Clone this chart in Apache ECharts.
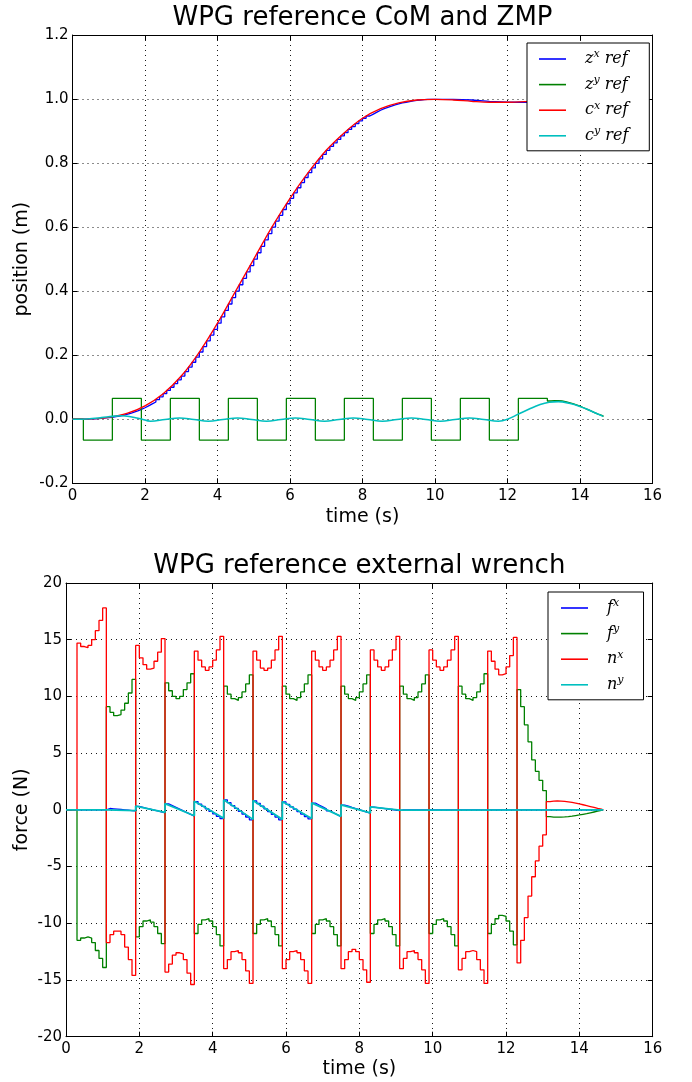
<!DOCTYPE html>
<html><head><meta charset="utf-8">
<script src="https://cdn.jsdelivr.net/npm/echarts@6/dist/echarts.min.js"></script>
<style>html,body{margin:0;padding:0;background:#fff}#c{width:692px;height:1082px}</style>
</head><body><div id="c"></div>
<script>
// ================= DATA =================
// ---- Top chart: WPG reference CoM and ZMP ----
// z^x ref : ZMP x, held 0.1 s steps starting at t = 0.3 s
const zxT0 = 0.3, zxDT = 0.1;
const zxVals = [
  0.000, 0.001, 0.001, 0.002, 0.003, 0.004, 0.005, 0.006, 0.008, 0.010,
  0.012, 0.015, 0.018, 0.022, 0.026, 0.031, 0.036, 0.042, 0.048, 0.054,
  0.061, 0.070, 0.080, 0.090, 0.100, 0.111, 0.123, 0.135, 0.149, 0.163,
  0.178, 0.194, 0.210, 0.227, 0.245, 0.263, 0.281, 0.300, 0.320, 0.340,
  0.360, 0.380, 0.400, 0.420, 0.440, 0.460, 0.480, 0.500, 0.520, 0.540,
  0.560, 0.580, 0.600, 0.619, 0.637, 0.655, 0.673, 0.690, 0.707, 0.723,
  0.739, 0.755, 0.770, 0.785, 0.799, 0.813, 0.827, 0.840, 0.852, 0.863,
  0.874, 0.885, 0.895, 0.905, 0.914, 0.923, 0.932, 0.940, 0.947, 0.953,
  0.959, 0.965, 0.970, 0.974, 0.978, 0.982, 0.985, 0.988, 0.990, 0.992,
  0.994, 0.996, 0.997, 0.998, 0.999, 0.999, 0.999, 0.999
];
const zxTailT = [10.5, 11.0, 11.5, 12.0, 12.5, 13.0, 13.5, 14.0, 14.6];
const zxTailV = [0.997, 0.993, 0.990, 0.990, 0.993, 0.997, 0.999, 1.000, 1.000];

// z^y ref : square wave switch times / levels, then tail every 0.1 s from 13.1
const zySwitchT = [0, 0.3, 1.1, 1.9, 2.7, 3.5, 4.3, 5.1, 5.9, 6.7, 7.5, 8.3, 9.1, 9.9, 10.7, 11.5, 12.3];
const zySwitchV = [0, -0.065, 0.065, -0.065, 0.065, -0.065, 0.065, -0.065, 0.065, -0.065, 0.065, -0.065, 0.065, -0.065, 0.065, -0.065, 0.065];
const zyTailT0 = 13.1, zyTailDT = 0.1;
const zyTailV = [0.057, 0.058, 0.058, 0.057, 0.055, 0.052, 0.049, 0.045, 0.041, 0.036, 0.031, 0.026, 0.021, 0.016, 0.012, 0.009];

// c^x ref : CoM x
const cxT = [0, 0.5, 1.0, 1.5, 2.0, 2.5, 3.0, 3.5, 4.0, 4.5, 5.0, 5.5, 6.0, 6.5, 7.0, 7.5, 8.0, 8.5, 9.0, 9.5, 10.0, 10.5, 11.0, 11.5, 12.0, 12.5, 13.0, 13.5, 14.0, 14.6];
const cxV = [0, 0.001, 0.006, 0.018, 0.042, 0.080, 0.135, 0.210, 0.300, 0.400, 0.500, 0.600, 0.690, 0.770, 0.840, 0.895, 0.940, 0.970, 0.988, 0.997, 0.999, 0.997, 0.993, 0.990, 0.990, 0.992, 0.996, 0.999, 1.000, 1.000];

// c^y ref : CoM y
const cyT = [0, 0.4, 0.8, 1.1, 1.35, 1.6, 1.9, 2.15, 2.55, 2.95, 3.35, 3.75, 4.15, 4.55, 4.95, 5.35, 5.75, 6.15, 6.55, 6.95, 7.35, 7.75, 8.15, 8.55, 8.95, 9.35, 9.75, 10.15, 10.55, 10.95, 11.35, 11.75, 12.0, 12.3, 12.6, 12.9, 13.15, 13.4, 13.7, 14.0, 14.3, 14.64];
const cyV = [0, 0.001, 0.005, 0.009, 0.011, 0.008, 0.001, -0.006, -0.001, 0.004, -0.001, -0.006, -0.001, 0.004, -0.001, -0.006, -0.001, 0.004, -0.001, -0.006, -0.001, 0.004, -0.001, -0.006, -0.001, 0.004, -0.001, -0.006, -0.001, 0.004, -0.001, -0.006, 0.000, 0.016, 0.032, 0.046, 0.053, 0.055, 0.050, 0.040, 0.026, 0.009];

// ---- Bottom chart: WPG reference external wrench ----
// values held 0.1 s, starting at t = 0.3 s (zero before), 16 steps of 0.8 s then tail to 14.6
const wT0 = 0.3, wDT = 0.1;
const nxVals = [
  14.7, 14.4, 14.3, 14.5, 15.0, 15.8, 16.7, 17.8,
  -11.7, -11.0, -10.7, -10.7, -11.0, -12.1, -13.2, -14.6,
  14.5, 13.4, 12.8, 12.4, 12.5, 13.1, 13.9, 15.1,
  -14.3, -13.6, -12.8, -12.6, -12.7, -13.2, -14.4, -15.4,
  14.0, 13.2, 12.6, 12.3, 12.6, 13.2, 14.1, 15.3,
  -14.0, -13.2, -12.5, -12.4, -12.6, -13.2, -14.2, -15.3,
  14.0, 13.2, 12.5, 12.3, 12.5, 13.2, 14.1, 15.3,
  -14.0, -13.2, -12.5, -12.4, -12.6, -13.2, -14.2, -15.3,
  14.0, 13.2, 12.6, 12.3, 12.6, 13.2, 14.1, 15.3,
  -14.0, -13.2, -12.5, -12.3, -12.5, -13.2, -14.1, -15.2,
  14.1, 13.2, 12.6, 12.3, 12.6, 13.2, 14.1, 15.3,
  -14.0, -13.1, -12.5, -12.4, -12.6, -13.2, -14.1, -15.3,
  14.1, 13.2, 12.6, 12.3, 12.6, 13.2, 14.1, 15.3,
  -14.1, -13.1, -12.5, -12.4, -12.5, -13.2, -14.1, -15.3,
  14.0, 13.1, 12.4, 11.9, 12.0, 12.6, 13.6, 15.2,
  -13.5, -11.5, -9.5, -7.6, -5.9, -4.5, -3.2, -2.2,
  0.73, 0.77, 0.78, 0.77, 0.74, 0.70, 0.65, 0.59, 0.52, 0.45, 0.37, 0.29, 0.21, 0.13, 0.06, 0.00
];
const fyVals = [
  -11.5, -11.3, -11.2, -11.3, -11.7, -12.4, -13.1, -13.9,
  9.1, 8.6, 8.3, 8.4, 8.8, 9.4, 10.3, 11.5,
  -11.2, -10.3, -9.8, -9.7, -9.9, -10.3, -10.9, -11.8,
  11.2, 10.5, 10.0, 9.8, 10.0, 10.6, 11.2, 12.0,
  -10.9, -10.1, -9.7, -9.6, -9.8, -10.3, -11.0, -12.0,
  10.9, 10.2, 9.8, 9.65, 9.9, 10.4, 11.1, 11.9,
  -10.9, -10.1, -9.7, -9.6, -9.8, -10.3, -11.0, -12.0,
  10.9, 10.2, 9.8, 9.65, 9.9, 10.4, 11.1, 11.9,
  -10.9, -10.1, -9.7, -9.6, -9.8, -10.3, -11.0, -12.0,
  10.9, 10.2, 9.8, 9.65, 9.9, 10.4, 11.1, 11.9,
  -10.9, -10.1, -9.7, -9.6, -9.8, -10.3, -11.0, -12.0,
  10.9, 10.2, 9.8, 9.65, 9.9, 10.4, 11.1, 11.9,
  -10.9, -10.1, -9.7, -9.6, -9.8, -10.3, -11.0, -12.0,
  10.9, 10.2, 9.8, 9.65, 9.9, 10.4, 11.1, 12.0,
  -10.9, -10.1, -9.6, -9.3, -9.4, -9.8, -10.7, -11.9,
  10.6, 9.1, 7.5, 6.0, 4.4, 3.4, 2.6, 1.7,
  -0.60, -0.64, -0.65, -0.64, -0.62, -0.59, -0.55, -0.50, -0.45, -0.39, -0.33, -0.26, -0.19, -0.12, -0.05, 0.00
];
const fxVals = [
  0, 0, 0, 0, 0, 0, 0, 0,
  0.12, 0.09, 0.06, 0.03, 0.00, -0.03, -0.06, -0.09,
  0.30, 0.22, 0.14, 0.06, -0.02, -0.10, -0.18, -0.26,
  0.52, 0.37, 0.22, 0.07, -0.09, -0.24, -0.40, -0.55,
  0.73, 0.51, 0.30, 0.08, -0.14, -0.35, -0.57, -0.78,
  0.88, 0.63, 0.38, 0.13, -0.13, -0.38, -0.63, -0.88,
  0.80, 0.56, 0.32, 0.08, -0.16, -0.40, -0.64, -0.88,
  0.70, 0.49, 0.27, 0.06, -0.16, -0.37, -0.59, -0.80,
  0.60, 0.43, 0.26, 0.09, -0.09, -0.26, -0.43, -0.60,
  0.42, 0.32, 0.21, 0.11, 0.01, -0.10, -0.20, -0.30,
  0.24, 0.20, 0.16, 0.11, 0.07, 0.03, -0.02, -0.06,
  0, 0, 0, 0, 0, 0, 0, 0,
  0, 0, 0, 0, 0, 0, 0, 0,
  0, 0, 0, 0, 0, 0, 0, 0,
  0, 0, 0, 0, 0, 0, 0, 0,
  0, 0, 0, 0, 0, 0, 0, 0,
  0, 0, 0, 0, 0, 0, 0, 0, 0, 0, 0, 0, 0, 0, 0, 0
];
const nyT = [0, 1.1, 1.1, 1.9, 1.9, 2.7, 2.7, 3.5, 3.5, 4.3, 4.3, 5.1, 5.1, 5.9, 5.9, 6.7, 6.7, 7.5, 7.5, 8.3, 8.3, 9.1, 14.65];
const nyV = [0, 0, 0.14, -0.07, 0.33, -0.22, 0.55, -0.52, 0.76, -0.74, 0.90, -0.84, 0.83, -0.84, 0.73, -0.77, 0.62, -0.57, 0.44, -0.27, 0.26, -0.03, 0];

// axis ticks
const xTicks = [0, 2, 4, 6, 8, 10, 12, 14, 16];
const topYTicks = [-0.2, 0.0, 0.2, 0.4, 0.6, 0.8, 1.0, 1.2];
const botYTicks = [-20, -15, -10, -5, 0, 5, 10, 15, 20];

// ================= BUILD =================
const r2 = v => Math.round(v * 1000) / 1000;
const onGrid = (t0, dt, vals) => vals.map((v, i) => [r2(t0 + i * dt), v]);
const pairs = (ts, vs) => ts.map((t, i) => [t, vs[i]]);

const zxData = [[0, 0]].concat(onGrid(zxT0, zxDT, zxVals), pairs(zxTailT, zxTailV));
const zyData = pairs(zySwitchT, zySwitchV).concat(onGrid(zyTailT0, zyTailDT, zyTailV), [[14.65, zyTailV[zyTailV.length - 1]]]);
const cxData = pairs(cxT, cxV);
const cyData = pairs(cyT, cyV);
const wrap = vals => [[0, 0]].concat(onGrid(wT0, wDT, vals), [[14.65, vals[vals.length - 1]]]);
const nxData = wrap(nxVals), fyData = wrap(fyVals), fxData = wrap(fxVals);
const nyData = pairs(nyT, nyV);

const C = { b: '#0000ff', g: '#008000', r: '#ff0000', c: '#00bfbf' };
const FONT = 'DejaVu Sans';

const GT = { left: 72.5, top: 35, width: 580, height: 448.3 };
const GB = { left: 66, top: 583, width: 586.7, height: 453.7 };

function xAx(grid, pos, labels) {
  return {
    type: 'value', gridIndex: grid, position: pos, min: xTicks[0], max: xTicks[xTicks.length - 1], interval: 2,
    axisLine: { show: true, onZero: false, lineStyle: { color: '#000', width: 1 } },
    axisTick: { show: true, inside: true, length: 5, lineStyle: { color: '#000' } },
    axisLabel: { show: labels, color: '#000', fontFamily: FONT, fontSize: 15, margin: 5 },
    splitLine: { show: labels, lineStyle: { color: '#000', type: [1, 4], width: 1, opacity: 0.9 } }
  };
}
function yAx(grid, pos, labels, ticks, fmt) {
  return {
    type: 'value', gridIndex: grid, position: pos, min: ticks[0], max: ticks[ticks.length - 1], interval: ticks[1] - ticks[0],
    axisLine: { show: true, onZero: false, lineStyle: { color: '#000', width: 1 } },
    axisTick: { show: true, inside: true, length: 5, lineStyle: { color: '#000' } },
    axisLabel: { show: labels, color: '#000', fontFamily: FONT, fontSize: 15, margin: 4, formatter: fmt },
    splitLine: { show: labels, lineStyle: { color: '#000', type: [1, 4], width: 1, opacity: 0.9 } }
  };
}

function line(name, data, color, xi, yi, step, smooth, w) {
  return {
    name, type: 'line', data, xAxisIndex: xi, yAxisIndex: yi, step: step || false, smooth: smooth || false,
    showSymbol: false, symbol: 'none', lineStyle: { color, width: w || 1.3 }, itemStyle: { color }, silent: true, clip: true
  };
}

const LBL = {
  zx: '{m|z}{s|x}{m| ref}', zy: '{m|z}{s|y}{m| ref}', cx: '{m|c}{s|x}{m| ref}', cy: '{m|c}{s|y}{m| ref}',
  fx: '{m|f}{s|x}', fy: '{m|f}{s|y}', nx: '{m|n}{s|x}', ny: '{m|n}{s|y}'
};
const rich = {
  m: { fontFamily: 'DejaVu Serif', fontStyle: 'italic', fontSize: 16, lineHeight: 20, color: '#000' },
  s: { fontFamily: 'DejaVu Serif', fontStyle: 'italic', fontSize: 11, lineHeight: 10, verticalAlign: 'top', color: '#000' }
};
function legend(names, left, top, pad) {
  return {
    data: names, orient: 'vertical', left, top, padding: pad, itemGap: 7.6, itemWidth: 27, itemHeight: 1.6,
    icon: 'rect', borderColor: '#000', borderWidth: 1, backgroundColor: '#fff', borderRadius: 0,
    selectedMode: false, formatter: n => LBL[n],
    textStyle: { padding: [0, 0, 0, 14], rich }
  };
}

const option = {
  animation: false,
  backgroundColor: '#fff',
  grid: [
    { left: GT.left, top: GT.top, width: GT.width, height: GT.height, containLabel: false },
    { left: GB.left, top: GB.top, width: GB.width, height: GB.height, containLabel: false }
  ],
  xAxis: [xAx(0, 'bottom', true), xAx(0, 'top', false), xAx(1, 'bottom', true), xAx(1, 'top', false)],
  yAxis: [
    yAx(0, 'left', true, topYTicks, v => v.toFixed(1)), yAx(0, 'right', false, topYTicks),
    yAx(1, 'left', true, botYTicks, v => String(Math.round(v))), yAx(1, 'right', false, botYTicks)
  ],
  legend: [
    legend(['zx', 'zy', 'cx', 'cy'], 527, 43, [6, 21, 7, 12]),
    legend(['fx', 'fy', 'nx', 'ny'], 548, 592, [6, 20, 7, 13])
  ],
  series: [
    line('zx', zxData, C.b, 0, 0, 'end'),
    line('zy', zyData, C.g, 0, 0, 'end'),
    line('cx', cxData, C.r, 0, 0, false, 0.35),
    line('cy', cyData, C.c, 0, 0, false, 0.4, 1.6),
    line('fx', fxData, C.b, 2, 2, 'end'),
    line('fy', fyData, C.g, 2, 2, 'end'),
    line('nx', nxData, C.r, 2, 2, 'end'),
    line('ny', nyData, C.c, 2, 2, false, false, 1.8)
  ],
  graphic: [
    { type: 'text', x: GT.left + GT.width / 2, y: 18, style: { text: 'WPG reference CoM and ZMP', font: '26px "DejaVu Sans"', fill: '#000', align: 'center', verticalAlign: 'middle' } },
    { type: 'text', x: GB.left + GB.width / 2, y: 566, style: { text: 'WPG reference external wrench', font: '26px "DejaVu Sans"', fill: '#000', align: 'center', verticalAlign: 'middle' } },
    { type: 'text', x: GT.left + GT.width / 2, y: 517, style: { text: 'time (s)', font: '19px "DejaVu Sans"', fill: '#000', align: 'center', verticalAlign: 'middle' } },
    { type: 'text', x: GB.left + GB.width / 2, y: 1069, style: { text: 'time (s)', font: '19px "DejaVu Sans"', fill: '#000', align: 'center', verticalAlign: 'middle' } },
    { type: 'text', x: 22, y: GT.top + GT.height / 2, rotation: Math.PI / 2, style: { text: 'position (m)', font: '19px "DejaVu Sans"', fill: '#000', align: 'center', verticalAlign: 'middle' } },
    { type: 'text', x: 22, y: GB.top + GB.height / 2, rotation: Math.PI / 2, style: { text: 'force (N)', font: '19px "DejaVu Sans"', fill: '#000', align: 'center', verticalAlign: 'middle' } }
  ]
};

const chart = echarts.init(document.getElementById('c'), null, { renderer: 'canvas' });
chart.setOption(option);
</script>
</body></html>
